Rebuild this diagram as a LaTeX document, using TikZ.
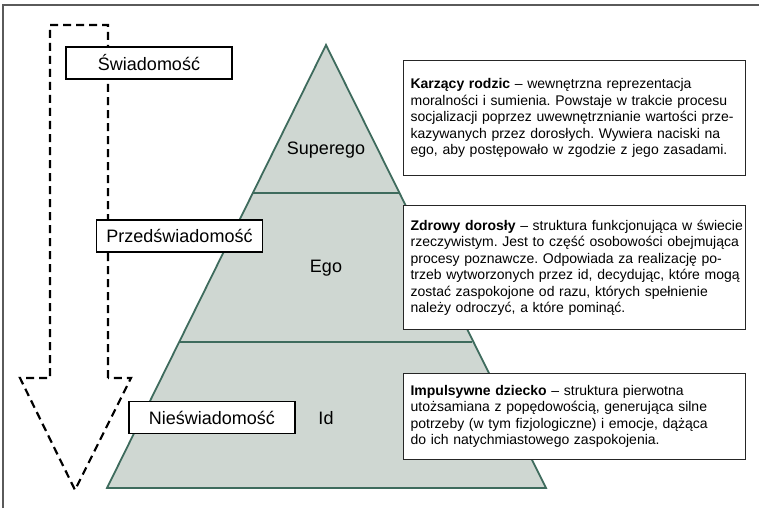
\documentclass[tikz,border=0pt]{standalone}
\usepackage{fontspec}
\setmainfont{Liberation Sans}
\definecolor{pyrfill}{HTML}{CFD7D2}
\definecolor{pyrline}{HTML}{3E6B5D}
\definecolor{framegray}{HTML}{5A5A5A}
% one unbreakable line of a description
\newcommand{\dline}[1]{\mbox{#1}}
\begin{document}
\frenchspacing
\begin{tikzpicture}[x=1pt,y=-1pt,
  levelbox/.style={draw=black, line width=1.4pt, fill=white, inner sep=0pt,
    minimum width=166pt, minimum height=32pt, font=\fontsize{18}{21}\selectfont},
  descbox/.style={draw=black!85, line width=1.2pt, fill=white, anchor=north west,
    inner xsep=7pt, inner ysep=0pt, text width=328pt, align=left,
    minimum width=342pt, font=\fontsize{14}{16.5}\selectfont},
  layer/.style={font=\fontsize{18}{21}\selectfont},
  dasharrow/.style={draw=black, line width=2.2pt, dash pattern=on 8pt off 5pt}]

\useasboundingbox (0,0) rectangle (759,508);

% partial frame
\draw[framegray, line width=1.3pt] (3,508) -- (3,5) -- (759,5);

% dashed downward arrow
\draw[dasharrow] (108,378) -- (108,25) -- (50,25) -- (50,378) -- (20,378)
  -- (75,490) -- (131,378) -- cycle;

% pyramid
\coordinate (apex) at (326,45);
\coordinate (bl) at (107,488);
\coordinate (br) at (546,488);
\coordinate (s1l) at (253,193);
\coordinate (s1r) at (399,193);
\coordinate (s2l) at (180,342);
\coordinate (s2r) at (472,342);
\draw[pyrline, fill=pyrfill, line width=1.8pt, line join=miter] (apex) -- (br) -- (bl) -- cycle;
\draw[pyrline, line width=1.8pt] (s1l) -- (s1r);
\draw[pyrline, line width=1.8pt] (s2l) -- (s2r);

\node[layer] (superego) at (326,150) {Superego};
\node[layer] (ego) at (326,268) {Ego};
\node[layer] (id) at (326,418) {Id};

% consciousness levels
\node[levelbox] (swiad) at (149,63) {Świadomość};
\node[levelbox] (przed) at (179.5,236) {Przedświadomość};
\node[levelbox] (nies) at (212,417.5) {Nieświadomość};

% descriptions
\node[descbox, minimum height=115pt] (karz) at (403,60)
  {\dline{\textbf{Karzący rodzic} – wewnętrzna reprezentacja}\\
   \dline{moralności i sumienia. Powstaje w trakcie procesu}\\
   \dline{socjalizacji poprzez uwewnętrznianie wartości prze-}\\
   \dline{kazywanych przez dorosłych. Wywiera naciski na}\\
   \dline{ego, aby postępowało w zgodzie z jego zasadami.}};
\node[descbox, minimum height=124pt] (zdrowy) at (403,205)
  {\dline{\textbf{Zdrowy dorosły} – struktura funkcjonująca w świecie}\\
   \dline{rzeczywistym. Jest to część osobowości obejmująca}\\
   \dline{procesy poznawcze. Odpowiada za realizację po-}\\
   \dline{trzeb wytworzonych przez id, decydując, które mogą}\\
   \dline{zostać zaspokojone od razu, których spełnienie}\\
   \dline{należy odroczyć, a które pominąć.}};
\node[descbox, minimum height=86pt] (impuls) at (403,373)
  {\dline{\textbf{Impulsywne dziecko} – struktura pierwotna}\\
   \dline{utożsamiana z popędowością, generująca silne}\\
   \dline{potrzeby (w tym fizjologiczne) i emocje, dążąca}\\
   \dline{do ich natychmiastowego zaspokojenia.}};
\end{tikzpicture}
\end{document}
